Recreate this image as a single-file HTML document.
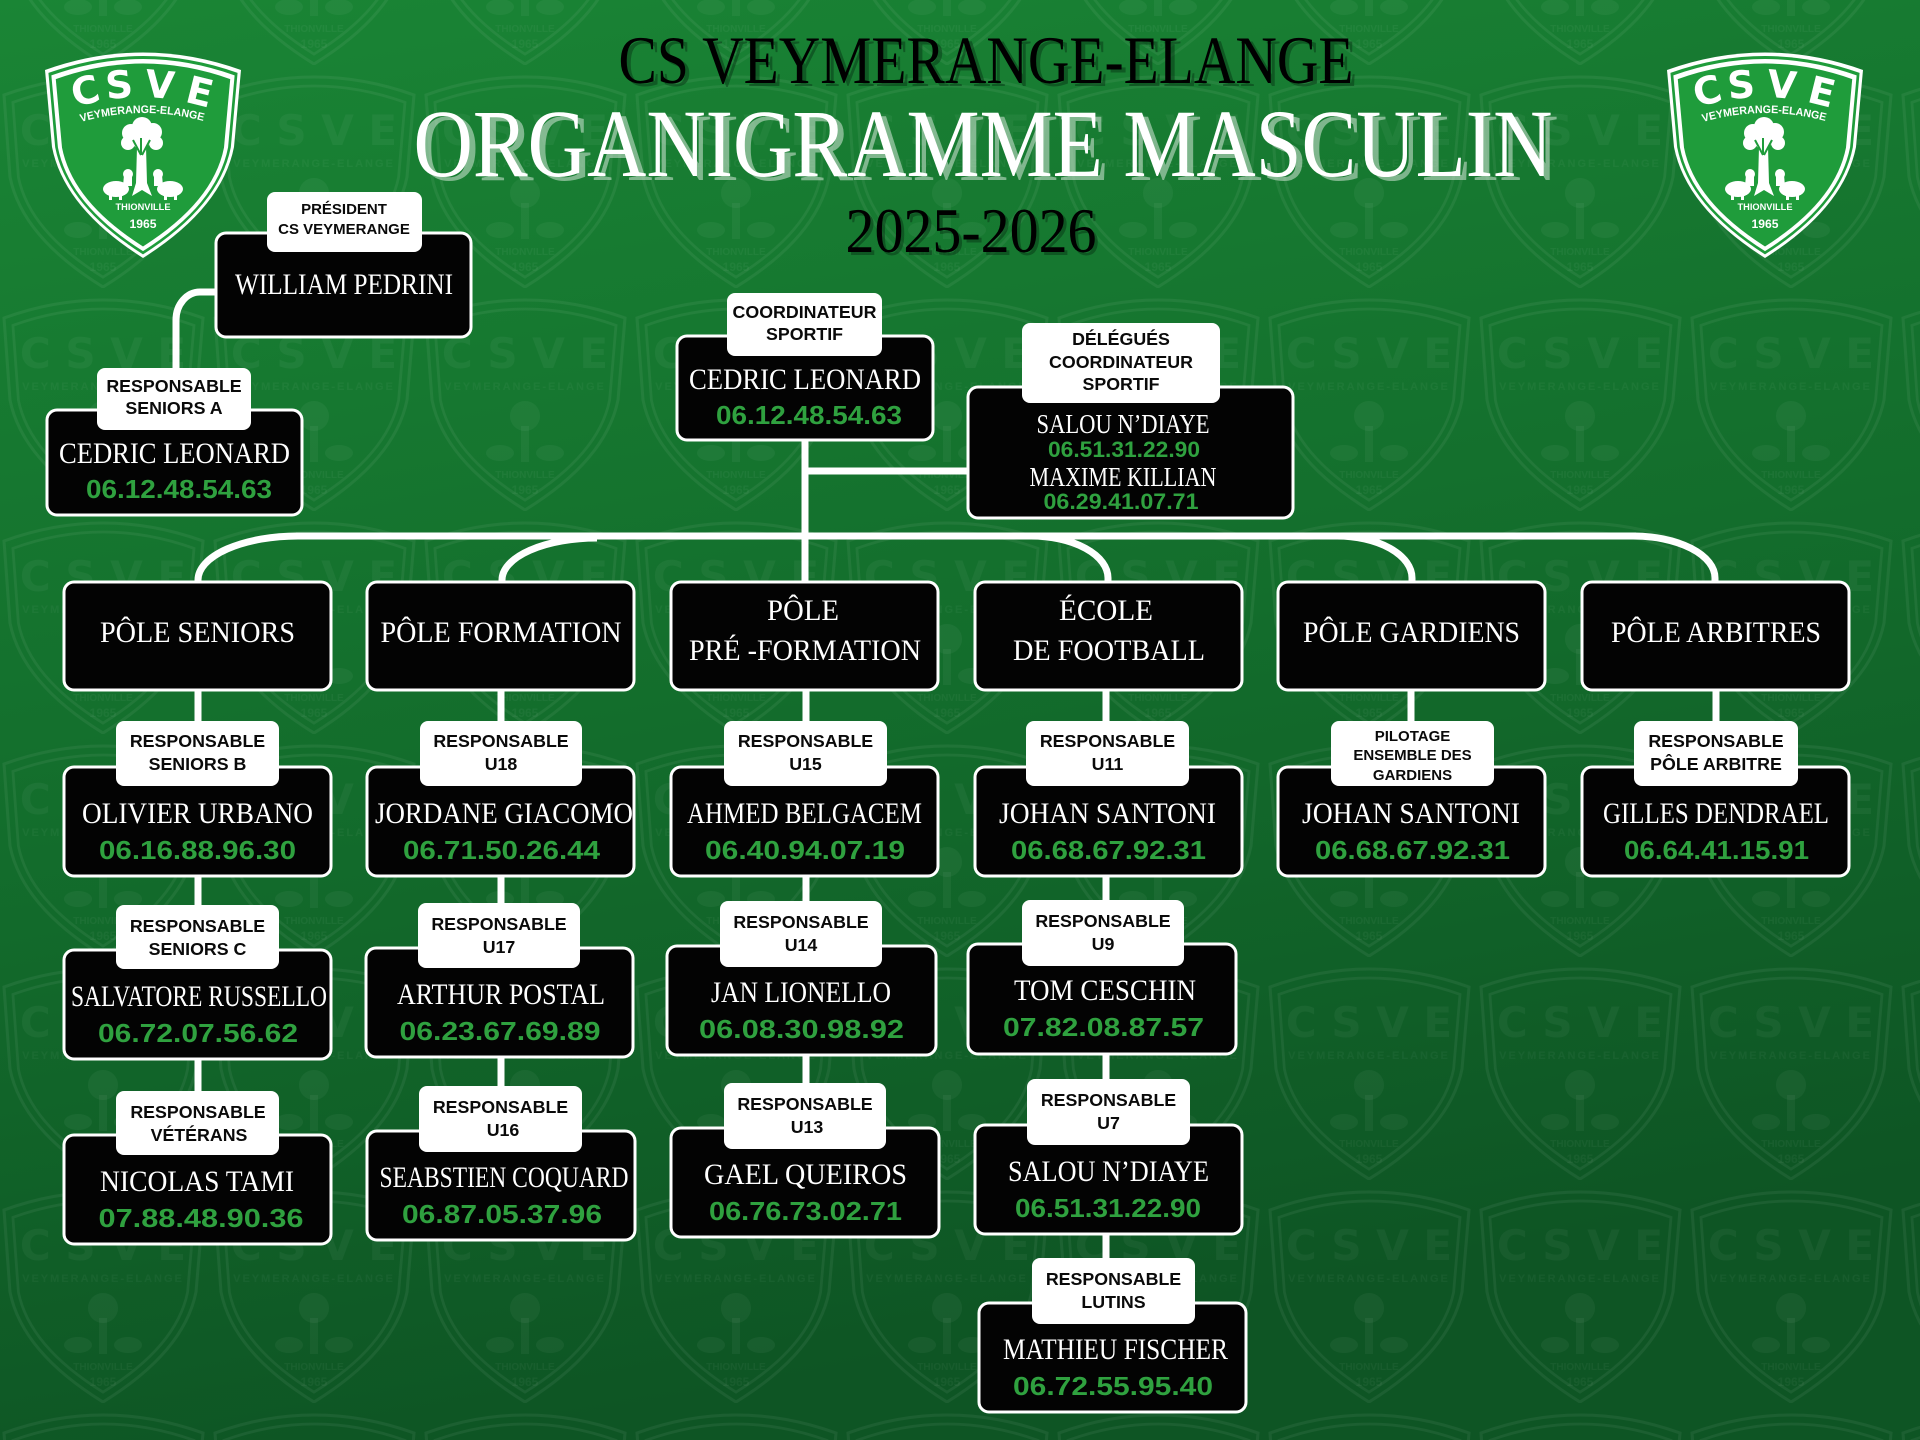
<!DOCTYPE html>
<html>
<head>
<meta charset="utf-8">
<style>
html,body{margin:0;padding:0;background:#136b2b;}
svg{display:block;}
.lb{font-family:"Liberation Sans",Arial,sans-serif;font-weight:700;font-size:17.8px;fill:#0a0a0a;text-anchor:middle;}
.lbs{font-family:"Liberation Sans",Arial,sans-serif;font-weight:700;font-size:15px;fill:#0a0a0a;text-anchor:middle;}
.nm{font-family:"Liberation Serif","Times New Roman",serif;font-size:30px;fill:#fff;text-anchor:middle;}
.nm2{font-family:"Liberation Serif","Times New Roman",serif;font-size:27px;fill:#fff;text-anchor:middle;}
.ph{font-family:"Liberation Sans",Arial,sans-serif;font-weight:700;font-size:26px;fill:#2fa13f;text-anchor:middle;}
.ph2{font-family:"Liberation Sans",Arial,sans-serif;font-weight:700;font-size:22px;fill:#2fa13f;text-anchor:middle;}
.bx{fill:#030303;stroke:#fff;stroke-width:3;}
.lbx{fill:#fff;}
.cn{stroke:#fff;stroke-width:7;fill:none;}
.ttl{font-family:"Liberation Serif","Times New Roman",serif;text-anchor:middle;}
.lg{font-family:"DejaVu Sans","Liberation Sans",sans-serif;font-weight:bold;fill:#fff;text-anchor:middle;}
</style>
</head>
<body>
<svg width="1920" height="1440" viewBox="0 0 1920 1440" xmlns="http://www.w3.org/2000/svg">
<defs>
  <linearGradient id="bg" x1="0" y1="0" x2="0.25" y2="1">
    <stop offset="0" stop-color="#1a8535"/>
    <stop offset="0.55" stop-color="#136d2c"/>
    <stop offset="1" stop-color="#0e5524"/>
  </linearGradient>
  <pattern id="wm" x="-2" y="65" width="211" height="223" patternUnits="userSpaceOnUse">
    <g fill="none" stroke="#fff" stroke-opacity="0.06" stroke-width="3">
      <path d="M6,30 Q105,-6 205,30 L198,112 Q186,172 105,222 Q24,172 12,112 Z"/>
      <path transform="translate(105,112) scale(0.91) translate(-105,-112)" d="M6,30 Q105,-6 205,30 L198,112 Q186,172 105,222 Q24,172 12,112 Z"/>
    </g>
    <text x="105" y="80" font-family="DejaVu Sans, sans-serif" font-weight="bold" font-size="42" fill="#fff" fill-opacity="0.045" text-anchor="middle">C S V E</text>
    <text x="105" y="102" font-family="Liberation Sans, sans-serif" font-weight="bold" font-size="11" fill="#fff" fill-opacity="0.04" text-anchor="middle" letter-spacing="2">VEYMERANGE-ELANGE</text>
    <g fill="#fff" fill-opacity="0.045">
      <circle cx="105" cy="128" r="15"/>
      <rect x="101" y="138" width="8" height="36"/>
      <ellipse cx="80" cy="165" rx="14" ry="8"/>
      <ellipse cx="130" cy="165" rx="14" ry="8"/>
    </g>
    <text x="105" y="190" font-family="Liberation Sans, sans-serif" font-weight="bold" font-size="10" fill="#fff" fill-opacity="0.045" text-anchor="middle">THIONVILLE</text>
    <text x="105" y="206" font-family="Liberation Sans, sans-serif" font-weight="bold" font-size="12" fill="#fff" fill-opacity="0.045" text-anchor="middle">1965</text>
  </pattern>
  <path id="arcT" d="M36,79 Q98,61 162,79"/>
</defs>

<rect x="0" y="0" width="1920" height="1440" fill="url(#bg)"/>
<rect x="0" y="0" width="1920" height="1440" fill="url(#wm)"/>

<!-- LOGO LEFT -->
<g transform="translate(45,43)">
  <path d="M0,27 Q98,-8 196,27 L189,104 Q177,165 98,215 Q19,165 7,104 Z" fill="#fff"/>
  <path transform="translate(98,110) scale(0.965) translate(-98,-110)" d="M0,27 Q98,-8 196,27 L189,104 Q177,165 98,215 Q19,165 7,104 Z" fill="#1f9c3b"/>
  <path transform="translate(98,110) scale(0.935) translate(-98,-110)" d="M0,27 Q98,-8 196,27 L189,104 Q177,165 98,215 Q19,165 7,104 Z" fill="#fff"/>
  <path transform="translate(98,110) scale(0.89) translate(-98,-110)" d="M0,27 Q98,-8 196,27 L189,104 Q177,165 98,215 Q19,165 7,104 Z" fill="#1f9c3b"/>
  <g class="lg" font-size="38">
    <text x="40" y="61" transform="rotate(-14 40 47)">C</text>
    <text x="74" y="55" transform="rotate(-5 74 41)">S</text>
    <text x="115" y="55" transform="rotate(5 115 41)">V</text>
    <text x="155" y="62" transform="rotate(14 155 48)">E</text>
  </g>
  <text font-family="Liberation Sans, sans-serif" font-weight="bold" font-size="11" fill="#fff"><textPath href="#arcT" textLength="124" lengthAdjust="spacingAndGlyphs">VEYMERANGE-ELANGE</textPath></text>
  <g fill="#fff">
    <circle cx="86" cy="90" r="9"/><circle cx="97" cy="84" r="10"/><circle cx="108" cy="89" r="9"/>
    <circle cx="83" cy="100" r="7"/><circle cx="111" cy="100" r="7"/><circle cx="96" cy="97" r="9"/>
    <path d="M92,104 L101,104 L102,140 L107,153 L97,147 L87,153 L91,140 Z"/>
    <ellipse cx="71" cy="146" rx="13" ry="8"/><circle cx="83" cy="131" r="5"/><path d="M79,132 L78,143 L87,143 L87,132 Z"/>
    <rect x="64" y="150" width="3" height="7"/><rect x="74" y="150" width="3" height="7"/>
    <ellipse cx="125" cy="146" rx="13" ry="8"/><circle cx="113" cy="131" r="5"/><path d="M109,132 L109,143 L118,143 L117,132 Z"/>
    <rect x="119" y="150" width="3" height="7"/><rect x="129" y="150" width="3" height="7"/>
  </g>
  <path d="M96,112 L88,97 M97,112 L105,97 M96,112 L96,95" stroke="#1f9c3b" stroke-width="2" fill="none"/>
  <text x="98" y="167" font-family="Liberation Sans, sans-serif" font-weight="bold" font-size="9.5" fill="#fff" text-anchor="middle" textLength="55" lengthAdjust="spacingAndGlyphs">THIONVILLE</text>
  <text x="98" y="185" font-family="Liberation Sans, sans-serif" font-weight="bold" font-size="12" fill="#fff" text-anchor="middle" textLength="27" lengthAdjust="spacingAndGlyphs">1965</text>
</g>

<!-- LOGO RIGHT -->
<g transform="translate(1667,43)">
  <path d="M0,27 Q98,-8 196,27 L189,104 Q177,165 98,215 Q19,165 7,104 Z" fill="#fff"/>
  <path transform="translate(98,110) scale(0.965) translate(-98,-110)" d="M0,27 Q98,-8 196,27 L189,104 Q177,165 98,215 Q19,165 7,104 Z" fill="#1f9c3b"/>
  <path transform="translate(98,110) scale(0.935) translate(-98,-110)" d="M0,27 Q98,-8 196,27 L189,104 Q177,165 98,215 Q19,165 7,104 Z" fill="#fff"/>
  <path transform="translate(98,110) scale(0.89) translate(-98,-110)" d="M0,27 Q98,-8 196,27 L189,104 Q177,165 98,215 Q19,165 7,104 Z" fill="#1f9c3b"/>
  <g class="lg" font-size="38">
    <text x="40" y="61" transform="rotate(-14 40 47)">C</text>
    <text x="74" y="55" transform="rotate(-5 74 41)">S</text>
    <text x="115" y="55" transform="rotate(5 115 41)">V</text>
    <text x="155" y="62" transform="rotate(14 155 48)">E</text>
  </g>
  <text font-family="Liberation Sans, sans-serif" font-weight="bold" font-size="11" fill="#fff"><textPath href="#arcT" textLength="124" lengthAdjust="spacingAndGlyphs">VEYMERANGE-ELANGE</textPath></text>
  <g fill="#fff">
    <circle cx="86" cy="90" r="9"/><circle cx="97" cy="84" r="10"/><circle cx="108" cy="89" r="9"/>
    <circle cx="83" cy="100" r="7"/><circle cx="111" cy="100" r="7"/><circle cx="96" cy="97" r="9"/>
    <path d="M92,104 L101,104 L102,140 L107,153 L97,147 L87,153 L91,140 Z"/>
    <ellipse cx="71" cy="146" rx="13" ry="8"/><circle cx="83" cy="131" r="5"/><path d="M79,132 L78,143 L87,143 L87,132 Z"/>
    <rect x="64" y="150" width="3" height="7"/><rect x="74" y="150" width="3" height="7"/>
    <ellipse cx="125" cy="146" rx="13" ry="8"/><circle cx="113" cy="131" r="5"/><path d="M109,132 L109,143 L118,143 L117,132 Z"/>
    <rect x="119" y="150" width="3" height="7"/><rect x="129" y="150" width="3" height="7"/>
  </g>
  <path d="M96,112 L88,97 M97,112 L105,97 M96,112 L96,95" stroke="#1f9c3b" stroke-width="2" fill="none"/>
  <text x="98" y="167" font-family="Liberation Sans, sans-serif" font-weight="bold" font-size="9.5" fill="#fff" text-anchor="middle" textLength="55" lengthAdjust="spacingAndGlyphs">THIONVILLE</text>
  <text x="98" y="185" font-family="Liberation Sans, sans-serif" font-weight="bold" font-size="12" fill="#fff" text-anchor="middle" textLength="27" lengthAdjust="spacingAndGlyphs">1965</text>
</g>

<!-- TITLES -->
<text class="ttl" x="990" y="86" font-size="68" fill="#0a3d18" fill-opacity="0.55" textLength="735" lengthAdjust="spacingAndGlyphs">CS VEYMERANGE-ELANGE</text>
<text class="ttl" x="986" y="83" font-size="68" fill="#000" textLength="735" lengthAdjust="spacingAndGlyphs">CS VEYMERANGE-ELANGE</text>
<text class="ttl" x="989" y="180" font-size="96" fill="#d5e8d9" fill-opacity="0.55" textLength="1139" lengthAdjust="spacingAndGlyphs">ORGANIGRAMME MASCULIN</text>
<text class="ttl" x="983" y="176" font-size="96" fill="#fff" textLength="1139" lengthAdjust="spacingAndGlyphs">ORGANIGRAMME MASCULIN</text>
<text class="ttl" x="974" y="255" font-size="64" fill="#0a3d18" fill-opacity="0.55" textLength="251" lengthAdjust="spacingAndGlyphs">2025-2026</text>
<text class="ttl" x="971" y="252" font-size="64" fill="#000" textLength="251" lengthAdjust="spacingAndGlyphs">2025-2026</text>

<!-- CONNECTORS -->
<path class="cn" stroke-width="6" d="M218,292 H200 A24 28 0 0 0 176,320 V372"/>
<line class="cn" x1="805" y1="438" x2="805" y2="586"/>
<line class="cn" x1="805" y1="471" x2="970" y2="471"/>
<line class="cn" x1="296" y1="536" x2="1636" y2="536"/>
<path class="cn" d="M298,536 A100 44 0 0 0 198,580 V586"/>
<path class="cn" d="M597,538 A95 42 0 0 0 502,580 V586"/>
<path class="cn" d="M1031,536 A77 42 0 0 1 1108,578 V586"/>
<path class="cn" d="M1337,536 A75 42 0 0 1 1412,578 V586"/>
<path class="cn" d="M1633,536 A82 42 0 0 1 1715,578 V586"/>
<line class="cn" x1="198" y1="688" x2="198" y2="1138"/>
<line class="cn" x1="501" y1="688" x2="501" y2="1134"/>
<line class="cn" x1="806" y1="688" x2="806" y2="1130"/>
<line class="cn" x1="1106" y1="688" x2="1106" y2="1306"/>
<line class="cn" x1="1411" y1="688" x2="1411" y2="724"/>
<line class="cn" x1="1716" y1="688" x2="1716" y2="724"/>

<!-- PRESIDENT -->
<rect class="bx" x="216" y="233" width="255" height="104" rx="10"/>
<rect class="lbx" x="267" y="192" width="155" height="60" rx="8"/>
<text class="lbs" x="344" y="214">PRÉSIDENT</text>
<text class="lbs" x="344" y="234">CS VEYMERANGE</text>
<text class="nm" x="344" y="294" textLength="218" lengthAdjust="spacingAndGlyphs">WILLIAM PEDRINI</text>

<!-- SENIORS A -->
<rect class="bx" x="47" y="410" width="255" height="105" rx="10"/>
<rect class="lbx" x="97" y="368" width="154" height="62" rx="8"/>
<text class="lb" x="174" y="392">RESPONSABLE</text>
<text class="lb" x="174" y="414">SENIORS A</text>
<text class="nm" x="174.5" y="463" textLength="231" lengthAdjust="spacingAndGlyphs">CEDRIC LEONARD</text>
<text class="ph" x="179" y="498" textLength="186" lengthAdjust="spacingAndGlyphs">06.12.48.54.63</text>

<!-- COORDINATEUR -->
<rect class="bx" x="677" y="336" width="256" height="104" rx="10"/>
<rect class="lbx" x="727" y="293" width="155" height="63" rx="8"/>
<text class="lb" x="804.5" y="318">COORDINATEUR</text>
<text class="lb" x="804.5" y="340">SPORTIF</text>
<text class="nm" x="805" y="389" textLength="232" lengthAdjust="spacingAndGlyphs">CEDRIC LEONARD</text>
<text class="ph" x="809" y="424" textLength="186" lengthAdjust="spacingAndGlyphs">06.12.48.54.63</text>

<!-- DELEGUES -->
<rect class="bx" x="968" y="387" width="325" height="131" rx="10"/>
<rect class="lbx" x="1022" y="323" width="198" height="80" rx="8"/>
<text class="lb" x="1121" y="345">DÉLÉGUÉS</text>
<text class="lb" x="1121" y="368">COORDINATEUR</text>
<text class="lb" x="1121" y="390">SPORTIF</text>
<text class="nm2" x="1123" y="433" textLength="173" lengthAdjust="spacingAndGlyphs">SALOU N’DIAYE</text>
<text class="ph2" x="1124" y="457" textLength="152" lengthAdjust="spacingAndGlyphs">06.51.31.22.90</text>
<text class="nm2" x="1123" y="486" textLength="187" lengthAdjust="spacingAndGlyphs">MAXIME KILLIAN</text>
<text class="ph2" x="1121" y="509" textLength="155" lengthAdjust="spacingAndGlyphs">06.29.41.07.71</text>

<!-- POLES -->
<rect class="bx" x="64" y="582" width="267" height="108" rx="10"/>
<text class="nm" x="197.5" y="642" textLength="195" lengthAdjust="spacingAndGlyphs">PÔLE SENIORS</text>
<rect class="bx" x="367" y="582" width="267" height="108" rx="10"/>
<text class="nm" x="501" y="642" textLength="241" lengthAdjust="spacingAndGlyphs">PÔLE FORMATION</text>
<rect class="bx" x="671" y="582" width="267" height="108" rx="10"/>
<text class="nm" x="803" y="620" textLength="72" lengthAdjust="spacingAndGlyphs">PÔLE</text>
<text class="nm" x="805" y="660" textLength="232" lengthAdjust="spacingAndGlyphs">PRÉ -FORMATION</text>
<rect class="bx" x="975" y="582" width="267" height="108" rx="10"/>
<text class="nm" x="1106" y="620" textLength="94" lengthAdjust="spacingAndGlyphs">ÉCOLE</text>
<text class="nm" x="1109" y="660" textLength="192" lengthAdjust="spacingAndGlyphs">DE FOOTBALL</text>
<rect class="bx" x="1278" y="582" width="267" height="108" rx="10"/>
<text class="nm" x="1411.5" y="642" textLength="217" lengthAdjust="spacingAndGlyphs">PÔLE GARDIENS</text>
<rect class="bx" x="1582" y="582" width="267" height="108" rx="10"/>
<text class="nm" x="1716" y="642" textLength="210" lengthAdjust="spacingAndGlyphs">PÔLE ARBITRES</text>

<!-- ROW 2 -->
<rect class="bx" x="64" y="767" width="267" height="109" rx="10"/>
<rect class="lbx" x="116" y="721" width="163" height="65" rx="8"/>
<text class="lb" x="197.5" y="747">RESPONSABLE</text>
<text class="lb" x="197.5" y="770">SENIORS B</text>
<text class="nm" x="197.5" y="823" textLength="231" lengthAdjust="spacingAndGlyphs">OLIVIER URBANO</text>
<text class="ph" x="197.5" y="859" textLength="197" lengthAdjust="spacingAndGlyphs">06.16.88.96.30</text>

<rect class="bx" x="367" y="767" width="267" height="109" rx="10"/>
<rect class="lbx" x="420" y="721" width="162" height="65" rx="8"/>
<text class="lb" x="501" y="747">RESPONSABLE</text>
<text class="lb" x="501" y="770">U18</text>
<text class="nm" x="504" y="823" textLength="258" lengthAdjust="spacingAndGlyphs">JORDANE GIACOMO</text>
<text class="ph" x="501.5" y="859" textLength="197" lengthAdjust="spacingAndGlyphs">06.71.50.26.44</text>

<rect class="bx" x="671" y="767" width="267" height="109" rx="10"/>
<rect class="lbx" x="724" y="721" width="163" height="65" rx="8"/>
<text class="lb" x="805.5" y="747">RESPONSABLE</text>
<text class="lb" x="805.5" y="770">U15</text>
<text class="nm" x="804.5" y="823" textLength="235" lengthAdjust="spacingAndGlyphs">AHMED BELGACEM</text>
<text class="ph" x="805" y="859" textLength="200" lengthAdjust="spacingAndGlyphs">06.40.94.07.19</text>

<rect class="bx" x="975" y="767" width="267" height="109" rx="10"/>
<rect class="lbx" x="1026" y="721" width="163" height="65" rx="8"/>
<text class="lb" x="1107.5" y="747">RESPONSABLE</text>
<text class="lb" x="1107.5" y="770">U11</text>
<text class="nm" x="1107.5" y="823" textLength="217" lengthAdjust="spacingAndGlyphs">JOHAN SANTONI</text>
<text class="ph" x="1108.5" y="859" textLength="195" lengthAdjust="spacingAndGlyphs">06.68.67.92.31</text>

<rect class="bx" x="1278" y="767" width="267" height="109" rx="10"/>
<rect class="lbx" x="1331" y="721" width="163" height="65" rx="8"/>
<text class="lbs" x="1412.5" y="741">PILOTAGE</text>
<text class="lbs" x="1412.5" y="760">ENSEMBLE DES</text>
<text class="lbs" x="1412.5" y="780">GARDIENS</text>
<text class="nm" x="1411" y="823" textLength="218" lengthAdjust="spacingAndGlyphs">JOHAN SANTONI</text>
<text class="ph" x="1412.5" y="859" textLength="195" lengthAdjust="spacingAndGlyphs">06.68.67.92.31</text>

<rect class="bx" x="1582" y="767" width="267" height="109" rx="10"/>
<rect class="lbx" x="1634" y="721" width="164" height="65" rx="8"/>
<text class="lb" x="1716" y="747">RESPONSABLE</text>
<text class="lb" x="1716" y="770">PÔLE ARBITRE</text>
<text class="nm" x="1716" y="823" textLength="226" lengthAdjust="spacingAndGlyphs">GILLES DENDRAEL</text>
<text class="ph" x="1716.5" y="859" textLength="185" lengthAdjust="spacingAndGlyphs">06.64.41.15.91</text>

<!-- ROW 3 -->
<rect class="bx" x="64" y="950" width="267" height="109" rx="10"/>
<rect class="lbx" x="116" y="905" width="163" height="64" rx="8"/>
<text class="lb" x="197.5" y="932">RESPONSABLE</text>
<text class="lb" x="197.5" y="955">SENIORS C</text>
<text class="nm" x="199" y="1006" textLength="256" lengthAdjust="spacingAndGlyphs">SALVATORE RUSSELLO</text>
<text class="ph" x="198" y="1042" textLength="200" lengthAdjust="spacingAndGlyphs">06.72.07.56.62</text>

<rect class="bx" x="366" y="948" width="267" height="109" rx="10"/>
<rect class="lbx" x="418" y="903" width="162" height="65" rx="8"/>
<text class="lb" x="499" y="930">RESPONSABLE</text>
<text class="lb" x="499" y="953">U17</text>
<text class="nm" x="501" y="1004" textLength="208" lengthAdjust="spacingAndGlyphs">ARTHUR POSTAL</text>
<text class="ph" x="500" y="1040" textLength="201" lengthAdjust="spacingAndGlyphs">06.23.67.69.89</text>

<rect class="bx" x="667" y="946" width="269" height="109" rx="10"/>
<rect class="lbx" x="720" y="901" width="162" height="66" rx="8"/>
<text class="lb" x="801" y="928">RESPONSABLE</text>
<text class="lb" x="801" y="951">U14</text>
<text class="nm" x="801" y="1002" textLength="180" lengthAdjust="spacingAndGlyphs">JAN LIONELLO</text>
<text class="ph" x="801.5" y="1038" textLength="205" lengthAdjust="spacingAndGlyphs">06.08.30.98.92</text>

<rect class="bx" x="968" y="944" width="268" height="110" rx="10"/>
<rect class="lbx" x="1022" y="900" width="162" height="66" rx="8"/>
<text class="lb" x="1103" y="927">RESPONSABLE</text>
<text class="lb" x="1103" y="950">U9</text>
<text class="nm" x="1105" y="1000" textLength="182" lengthAdjust="spacingAndGlyphs">TOM CESCHIN</text>
<text class="ph" x="1103.5" y="1036" textLength="201" lengthAdjust="spacingAndGlyphs">07.82.08.87.57</text>

<!-- ROW 4 -->
<rect class="bx" x="64" y="1135" width="267" height="109" rx="10"/>
<rect class="lbx" x="116" y="1091" width="163" height="64" rx="8"/>
<text class="lb" x="198" y="1118">RESPONSABLE</text>
<text class="lb" x="199" y="1141">VÉTÉRANS</text>
<text class="nm" x="197" y="1191" textLength="194" lengthAdjust="spacingAndGlyphs">NICOLAS TAMI</text>
<text class="ph" x="201" y="1227" textLength="205" lengthAdjust="spacingAndGlyphs">07.88.48.90.36</text>

<rect class="bx" x="367" y="1131" width="268" height="109" rx="10"/>
<rect class="lbx" x="419" y="1086" width="163" height="66" rx="8"/>
<text class="lb" x="500.5" y="1113">RESPONSABLE</text>
<text class="lb" x="503" y="1136">U16</text>
<text class="nm" x="504" y="1187" textLength="249" lengthAdjust="spacingAndGlyphs">SEABSTIEN COQUARD</text>
<text class="ph" x="502" y="1223" textLength="200" lengthAdjust="spacingAndGlyphs">06.87.05.37.96</text>

<rect class="bx" x="671" y="1128" width="268" height="109" rx="10"/>
<rect class="lbx" x="724" y="1083" width="162" height="66" rx="8"/>
<text class="lb" x="805" y="1110">RESPONSABLE</text>
<text class="lb" x="807" y="1133">U13</text>
<text class="nm" x="805.5" y="1184" textLength="203" lengthAdjust="spacingAndGlyphs">GAEL QUEIROS</text>
<text class="ph" x="805.5" y="1220" textLength="193" lengthAdjust="spacingAndGlyphs">06.76.73.02.71</text>

<rect class="bx" x="975" y="1125" width="267" height="109" rx="10"/>
<rect class="lbx" x="1027" y="1079" width="163" height="66" rx="8"/>
<text class="lb" x="1108.5" y="1106">RESPONSABLE</text>
<text class="lb" x="1108.5" y="1129">U7</text>
<text class="nm" x="1108.5" y="1181" textLength="201" lengthAdjust="spacingAndGlyphs">SALOU N’DIAYE</text>
<text class="ph" x="1108" y="1217" textLength="186" lengthAdjust="spacingAndGlyphs">06.51.31.22.90</text>

<!-- ROW 5 -->
<rect class="bx" x="979" y="1303" width="267" height="109" rx="10"/>
<rect class="lbx" x="1032" y="1258" width="163" height="66" rx="8"/>
<text class="lb" x="1113.5" y="1285">RESPONSABLE</text>
<text class="lb" x="1113.5" y="1308">LUTINS</text>
<text class="nm" x="1115.5" y="1359" textLength="225" lengthAdjust="spacingAndGlyphs">MATHIEU FISCHER</text>
<text class="ph" x="1113" y="1395" textLength="200" lengthAdjust="spacingAndGlyphs">06.72.55.95.40</text>
</svg>
</body>
</html>
